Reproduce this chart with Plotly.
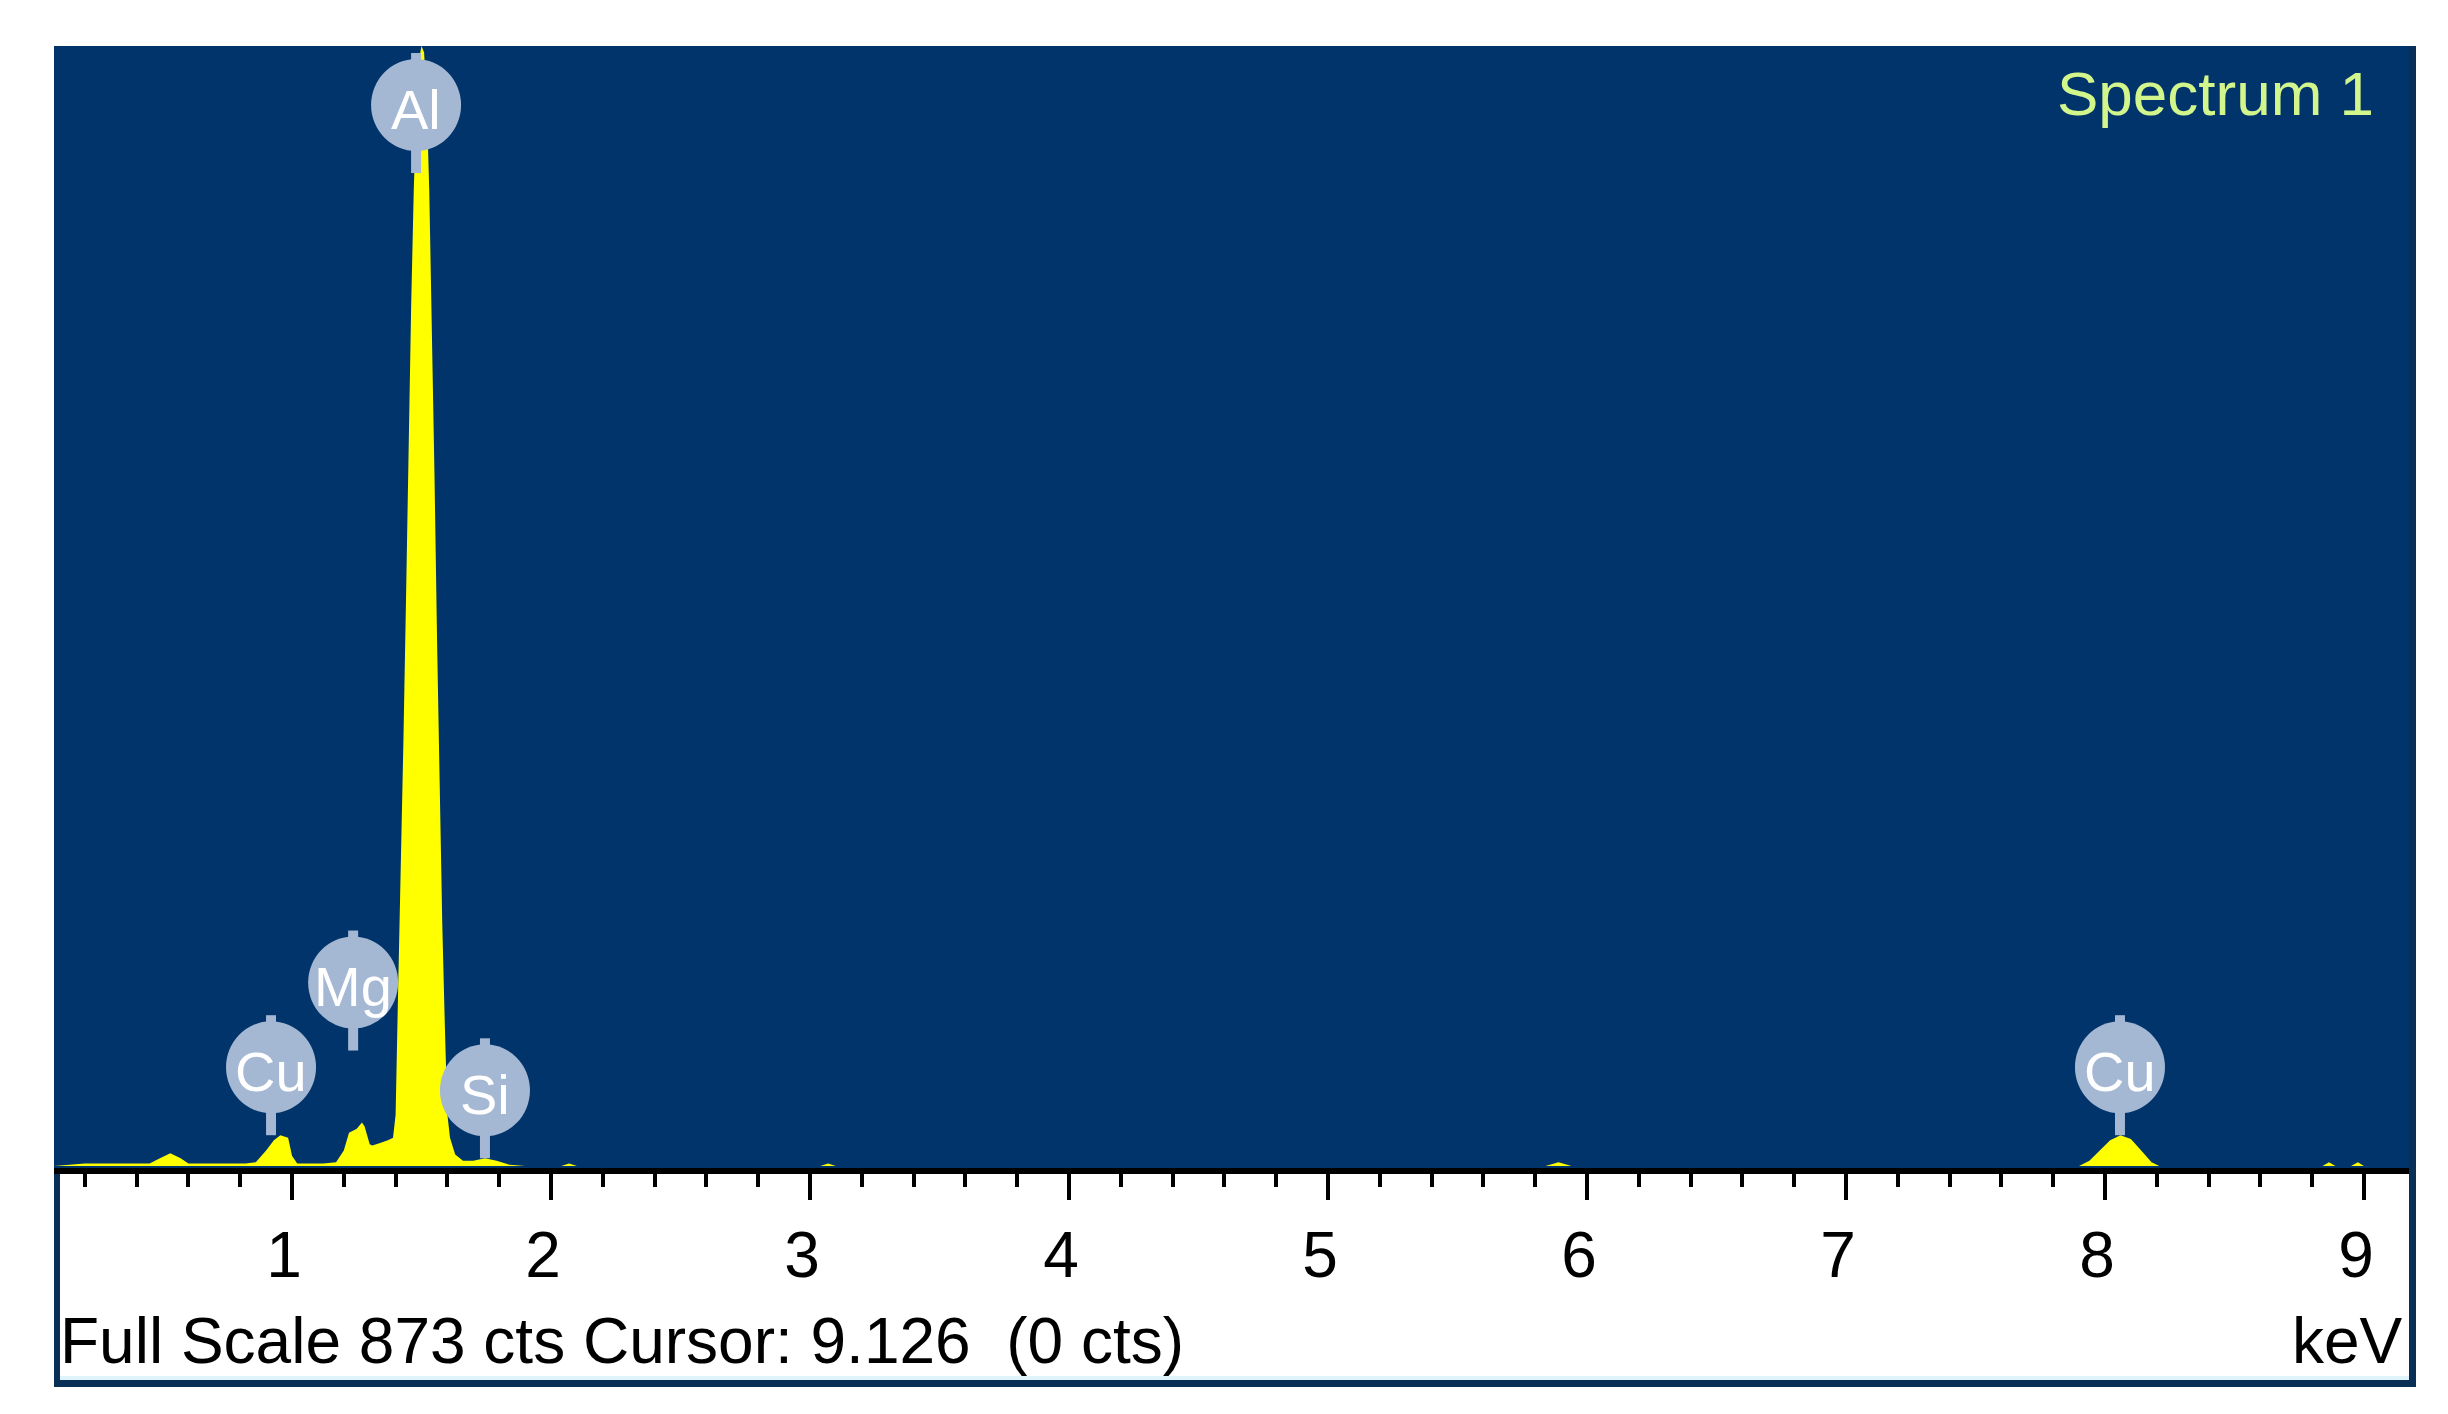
import plotly.graph_objects as go

# ---------------- data ----------------
energy_keV = [0.08, 0.16, 0.20, 0.30, 0.40, 0.45, 0.49, 0.53, 0.57, 0.60,
              0.66, 0.74, 0.82, 0.86, 0.90, 0.93, 0.955, 0.985, 1.00, 1.02,
              1.06, 1.12, 1.17, 1.20, 1.22, 1.25, 1.27, 1.28, 1.30, 1.31,
              1.34, 1.37, 1.39, 1.40, 1.41, 1.42, 1.43, 1.44, 1.45, 1.46,
              1.47, 1.48, 1.49, 1.50, 1.51, 1.52, 1.53, 1.54, 1.55, 1.56,
              1.57, 1.58, 1.59, 1.60, 1.61, 1.63, 1.66, 1.70, 1.745, 1.79,
              1.84, 1.90, 2.04, 2.07, 2.10, 3.04, 3.07, 3.10, 5.84, 5.89,
              5.94, 7.90, 7.94, 7.98, 8.02, 8.06, 8.10, 8.14, 8.18, 8.21,
              8.84, 8.865, 8.89, 8.95, 8.977, 9.00, 9.18]
counts = [0, 1, 2, 2, 2, 2, 6, 10, 6, 2,
          2, 2, 2, 3, 12, 20, 24, 22, 8, 2,
          2, 2, 3, 12, 26, 29, 34, 31, 17, 16,
          18, 20, 22, 40, 140, 230, 330, 440, 560, 670,
          760, 825, 862, 873, 868, 830, 760, 660, 540, 410,
          290, 190, 110, 40, 22, 9, 4, 4, 6, 4,
          1, 0, 0, 2, 0, 0, 2, 0, 0, 3,
          0, 0, 4, 12, 20, 24, 21, 12, 3, 0,
          0, 3, 0, 0, 3, 0, 0]

label_names = ["Al", "Mg", "Cu", "Si", "Cu"]
label_energy = [1.479, 1.236, 0.919, 1.745, 8.058]
label_tip_cts = [774, 90, 24, 6, 24]

tick_values = [1, 2, 3, 4, 5, 6, 7, 8, 9]
tick_labels = ["1", "2", "3", "4", "5", "6", "7", "8", "9"]

full_scale = 873
x_range = [0.081, 9.174]

# ---------------- styling ----------------
W, H = 2448, 1414
L, R, T, B = 46, 47, 38, 254
FONT = "Liberation Sans, Arial, sans-serif"
BLUE = "#01346b"
FRAME = "#0a2f57"
PIN = "#a4b7d3"

fig = go.Figure()
fig.add_trace(go.Scatter(
    x=energy_keV, y=counts, mode="lines", fill="tozeroy",
    fillcolor="#ffff00", line=dict(color="#ffff00", width=0),
    hoverinfo="skip", showlegend=False))

pw = W - L - R
ph = H - T - B


def px_x(px):
    return (px - L) / pw


def px_y(py):
    return (H - B - py) / ph


shapes = []
# frame pieces around the white scale area
shapes.append(dict(type="rect", xref="paper", yref="paper", layer="below",
                   x0=px_x(2401), x1=px_x(2408), y0=px_y(1379), y1=px_y(38),
                   fillcolor=FRAME, line=dict(width=0)))
shapes.append(dict(type="rect", xref="paper", yref="paper", layer="below",
                   x0=px_x(46), x1=px_x(52), y0=px_y(1379), y1=px_y(1160),
                   fillcolor=FRAME, line=dict(width=0)))
shapes.append(dict(type="rect", xref="paper", yref="paper", layer="below",
                   x0=px_x(46), x1=px_x(2408), y0=px_y(1379), y1=px_y(1372),
                   fillcolor=FRAME, line=dict(width=0)))
shapes.append(dict(type="rect", xref="paper", yref="paper", layer="below",
                   x0=px_x(52), x1=px_x(2401), y0=px_y(1372), y1=px_y(1368),
                   fillcolor="#dff3fa", line=dict(width=0)))

annotations = []
for name, e, tip in zip(label_names, label_energy, label_tip_cts):
    common = dict(xref="x", yref="y", xsizemode="pixel", ysizemode="pixel",
                  xanchor=e, yanchor=tip, layer="above",
                  fillcolor=PIN, line=dict(width=0))
    shapes.append(dict(type="rect", x0=-5, x1=5, y0=0, y1=34, **common))
    shapes.append(dict(type="rect", x0=-5, x1=5, y0=100, y1=120, **common))
    shapes.append(dict(type="circle", x0=-45, x1=45, y0=22, y1=114, **common))
    annotations.append(dict(x=e, y=tip, xref="x", yref="y", text=name,
                            showarrow=False, yshift=64,
                            font=dict(family=FONT, size=56, color="white")))

annotations.append(dict(x=px_x(2368), y=px_y(86), xref="paper", yref="paper",
                        xanchor="right", yanchor="middle", showarrow=False,
                        text="Spectrum 1",
                        font=dict(family=FONT, size=62, color="#d2f58c")))
annotations.append(dict(x=px_x(50), y=px_y(1333), xref="paper", yref="paper",
                        xanchor="left", yanchor="middle", showarrow=False,
                        text="Full Scale %d cts Cursor: 9.126 \u00a0(0 cts)" % full_scale,
                        font=dict(family=FONT, size=64, color="black")))
annotations.append(dict(x=px_x(2397), y=px_y(1333), xref="paper", yref="paper",
                        xanchor="right", yanchor="middle", showarrow=False,
                        text="keV",
                        font=dict(family=FONT, size=64, color="black")))

cts_per_px = full_scale / (1158 - 38)
y_range = [-(H - B - 1158) * cts_per_px, full_scale]

fig.update_layout(
    width=W, height=H,
    margin=dict(l=L, r=R, t=T, b=B, pad=0),
    paper_bgcolor="white", plot_bgcolor=BLUE,
    shapes=shapes, annotations=annotations,
    xaxis=dict(range=x_range, showgrid=False, zeroline=False,
               showline=True, linecolor="black", linewidth=6,
               ticks="outside", ticklen=26, tickwidth=4, tickcolor="black",
               tickvals=tick_values, ticktext=tick_labels,
               tickfont=dict(family=FONT, size=64, color="black"),
               ticklabelstandoff=0, ticklabelshift=-8,
               minor=dict(tick0=0, dtick=0.2, ticks="outside", ticklen=13,
                          tickwidth=4, tickcolor="black", showgrid=False),
               fixedrange=True),
    yaxis=dict(range=y_range, visible=False, showgrid=False, zeroline=False,
               fixedrange=True),
    showlegend=False,
)

fig.write_html("out.html")
